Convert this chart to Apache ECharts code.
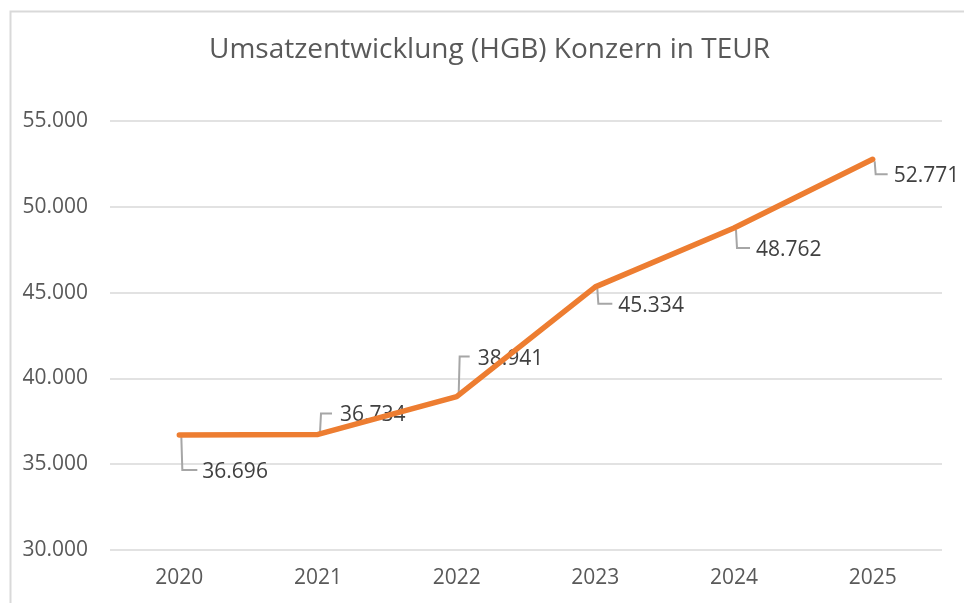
<!DOCTYPE html>
<html>
<head>
<meta charset="utf-8">
<script src="https://cdn.jsdelivr.net/npm/echarts@6/dist/echarts.min.js"></script>
<style>
html,body{margin:0;padding:0;background:#fff;}
#chart{width:964px;height:603px;}
</style>
</head>
<body>
<div id="chart"></div>
<script>
const titleText = 'Umsatzentwicklung (HGB) Konzern in TEUR';
const years = ['2020', '2021', '2022', '2023', '2024', '2025'];
const revenue = [36696, 36734, 38941, 45334, 48762, 52771];
const yTicks = { min: 30000, max: 55000, interval: 5000 };

function fmtDE(v) {
  return String(Math.round(v)).replace(/\B(?=(\d{3})+(?!\d))/g, '.');
}

// callout geometry (leader line: vertical segment then horizontal segment), in px relative to point
const callouts = [
  { vy: 35, hx: 18, tx: 23 },
  { vy: -21, hx: 14, tx: 22 },
  { vy: -40, hx: 13, tx: 21 },
  { vy: 17, hx: 17, tx: 23 },
  { vy: 20, hx: 16, tx: 22 },
  { vy: 15, hx: 15, tx: 21 }
];

const FONT = '"Open Sans", "Noto Sans", sans-serif';
const chart = echarts.init(document.getElementById('chart'), null, { renderer: 'canvas' });

chart.setOption({
  backgroundColor: '#ffffff',
  animation: false,
  title: {
    text: titleText,
    left: 204,
    top: 31,
    textStyle: { fontFamily: FONT, fontSize: 28, fontWeight: 'normal', color: '#595959' }
  },
  graphic: [{
    type: 'rect',
    left: 8, top: 9,
    shape: { width: 1000, height: 700 },
    style: { fill: 'none', stroke: '#d9d9d9', lineWidth: 2 },
    silent: true
  }],
  grid: { left: 110, right: 22, top: 121, bottom: 53, containLabel: false },
  xAxis: {
    type: 'category',
    data: years,
    boundaryGap: true,
    axisLine: { show: false },
    axisTick: { show: false },
    axisLabel: { fontFamily: FONT, fontSize: 21, color: '#595959', margin: 18 }
  },
  yAxis: {
    type: 'value',
    min: yTicks.min, max: yTicks.max, interval: yTicks.interval,
    axisLine: { show: false },
    axisTick: { show: false },
    splitLine: { lineStyle: { color: '#d9d9d9', width: 1.5 } },
    axisLabel: { fontFamily: FONT, fontSize: 21, color: '#595959', margin: 22, formatter: fmtDE }
  },
  series: [
    {
      type: 'custom',
      z: 1,
      silent: true,
      data: revenue.map((v, i) => [i, v]),
      renderItem: function (params, api) {
        const p = api.coord([api.value(0), api.value(1)]);
        const c = callouts[params.dataIndex];
        const x0 = p[0] + 2;
        const y0 = p[1] + (c.vy > 0 ? 2 : -2);
        return {
          type: 'group',
          children: [
            {
              type: 'polyline',
              shape: { points: [[x0, y0], [x0 + 1, p[1] + c.vy], [p[0] + c.hx, p[1] + c.vy]] },
              style: { stroke: '#a6a6a6', lineWidth: 2, fill: null }
            },
            {
              type: 'text',
              x: p[0] + c.tx,
              y: p[1] + c.vy + 2,
              style: {
                text: fmtDE(api.value(1)),
                fontFamily: FONT, fontSize: 21, fill: '#404040',
                verticalAlign: 'middle', align: 'left'
              }
            }
          ]
        };
      }
    },
    {
      type: 'line',
      z: 3,
      data: revenue,
      symbol: 'none',
      lineStyle: { color: '#ED7D31', width: 5.5, cap: 'round', join: 'round' },
      itemStyle: { color: '#ED7D31' }
    }
  ]
});
</script>
</body>
</html>
